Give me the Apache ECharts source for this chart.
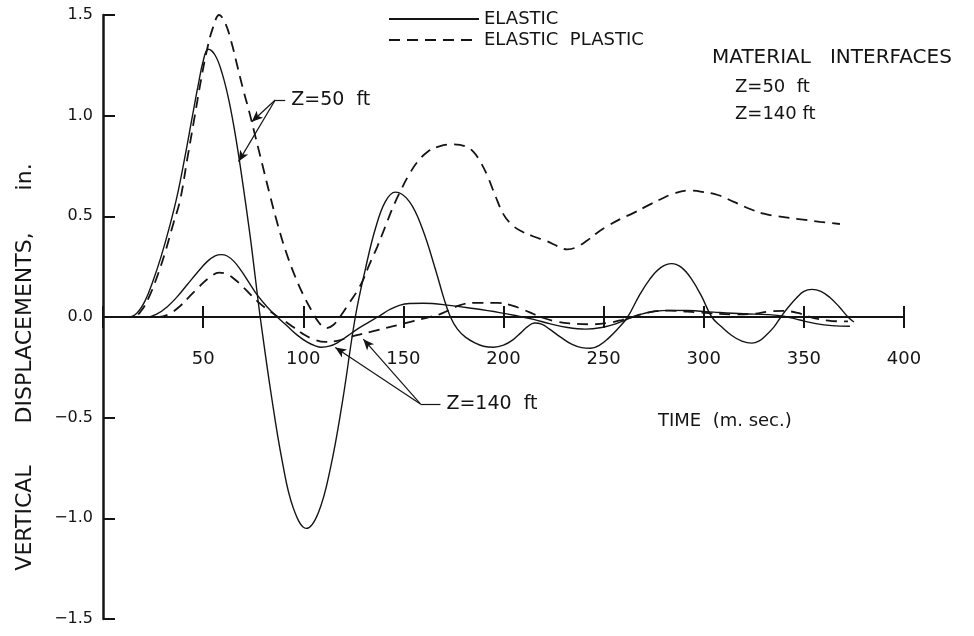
<!DOCTYPE html>
<html><head><meta charset="utf-8">
<script src="https://cdn.jsdelivr.net/npm/echarts@6/dist/echarts.min.js"></script>
<style>html,body{margin:0;padding:0;background:#fff}#c{width:974px;height:636px}</style>
</head><body><div id="c"></div>
<script>
// ---- data (time in ms, vertical displacement in inches) ----
const xTickValues = [0, 50, 100, 150, 200, 250, 300, 350, 400];
const yTickValues = [-1.5, -1.0, -0.5, 0.0, 0.5, 1.0, 1.5];

// Z = 50 ft, elastic (solid)
const z50ElasticT = [0, 13, 17, 21, 25, 29, 33, 37, 41, 44.5, 47.5, 50, 52.5, 56, 59.5, 63, 66.5, 70, 73.5, 76, 78.5, 84, 89.5, 95, 101.5, 107.5, 113.5, 119.5, 126, 131, 136, 141, 146, 153, 159.5, 166.5, 170, 173.5, 177, 181, 186, 190, 195, 200, 204.5, 208.5, 212, 215.5, 219, 223, 228.5, 234, 239, 243.5, 248, 252.5, 257, 262, 267.5, 273, 278.5, 284, 289, 294, 299, 304, 309, 314, 319, 324, 327.5, 331, 335, 338.5, 342.5, 346.5, 350, 354, 358.5, 363, 367.5, 372, 375];
const z50ElasticV = [0, 0, 0.02, 0.08, 0.18, 0.3, 0.44, 0.6, 0.8, 0.99, 1.15, 1.27, 1.33, 1.3, 1.21, 1.07, 0.88, 0.65, 0.4, 0.2, 0, -0.385, -0.716, -0.948, -1.05, -0.973, -0.754, -0.425, 0, 0.237, 0.438, 0.573, 0.62, 0.573, 0.438, 0.22, 0.1, 0, -0.06, -0.1, -0.13, -0.145, -0.15, -0.14, -0.115, -0.08, -0.048, -0.03, -0.035, -0.06, -0.1, -0.135, -0.152, -0.155, -0.14, -0.105, -0.06, 0, 0.101, 0.187, 0.245, 0.265, 0.245, 0.187, 0.101, 0, -0.05, -0.092, -0.12, -0.13, -0.12, -0.092, -0.05, 0, 0.052, 0.097, 0.127, 0.137, 0.127, 0.097, 0.052, 0, -0.025];

// Z = 50 ft, elastic-plastic (dashed)
const z50PlasticT = [0, 15, 19, 23, 27, 31, 35, 38.5, 42, 45.5, 49, 52, 55, 58, 61, 64, 67, 70, 73, 76, 79.5, 83.5, 87.5, 91.5, 96, 100, 104, 108, 111.5, 115, 119, 123, 127, 130, 133, 137, 141, 145, 149, 153, 157, 162, 168, 175, 181, 185, 188.5, 192, 196, 200, 204, 208.5, 215, 221.8, 227, 231.8, 236, 241.8, 247, 252, 258, 265, 272, 278.5, 285, 292, 299, 307, 315, 323.5, 330, 337, 348.5, 358, 368];
const z50PlasticV = [0, 0, 0.03, 0.1, 0.2, 0.32, 0.46, 0.58, 0.78, 0.98, 1.18, 1.33, 1.44, 1.5, 1.46, 1.37, 1.25, 1.13, 1.02, 0.9, 0.76, 0.6, 0.45, 0.32, 0.2, 0.11, 0.035, -0.03, -0.055, -0.04, 0.01, 0.07, 0.13, 0.187, 0.26, 0.35, 0.45, 0.55, 0.635, 0.71, 0.77, 0.82, 0.848, 0.857, 0.848, 0.82, 0.77, 0.7, 0.6, 0.51, 0.46, 0.428, 0.4, 0.376, 0.352, 0.336, 0.345, 0.38, 0.42, 0.452, 0.485, 0.517, 0.553, 0.585, 0.613, 0.628, 0.622, 0.606, 0.572, 0.535, 0.513, 0.5, 0.485, 0.473, 0.462];

// Z = 140 ft, elastic (solid)
const z140ElasticT = [0, 22, 27, 32, 37, 42, 47, 52, 56, 59, 62, 65.5, 69, 73, 77, 82, 87, 92, 97, 102, 106, 109, 113, 117, 122, 127, 132, 138, 143, 148, 153, 160, 173, 185, 198, 207, 215, 223, 232, 241, 249, 256, 262, 268, 275, 283, 292, 305, 320, 332, 340, 348, 356, 364, 373];
const z140ElasticV = [0, 0, 0.015, 0.05, 0.1, 0.16, 0.22, 0.275, 0.303, 0.31, 0.303, 0.275, 0.23, 0.17, 0.11, 0.05, 0.0, -0.045, -0.09, -0.125, -0.143, -0.15, -0.145, -0.128, -0.095, -0.06, -0.03, 0.005, 0.036, 0.058, 0.067, 0.068, 0.058, 0.042, 0.022, 0.005, -0.012, -0.033, -0.052, -0.06, -0.052, -0.034, -0.01, 0.012, 0.027, 0.033, 0.032, 0.024, 0.016, 0.012, 0.004, -0.015, -0.033, -0.043, -0.046];

// Z = 140 ft, elastic-plastic (dashed)
const z140PlasticT = [0, 28, 33, 38, 43, 48, 53, 58, 62, 66, 70, 74, 78, 82, 86, 90, 95, 100, 105, 111, 117, 123, 129, 135, 142, 148, 155, 162, 168, 173, 178, 185, 197, 204, 210, 215, 220, 226, 233, 245, 253, 259, 265, 272, 282, 298, 315, 325, 333, 340, 347, 355, 364, 372];
const z140PlasticV = [0, 0, 0.015, 0.05, 0.1, 0.15, 0.195, 0.22, 0.212, 0.185, 0.148, 0.108, 0.07, 0.038, 0.01, -0.015, -0.05, -0.085, -0.11, -0.124, -0.118, -0.1, -0.085, -0.07, -0.053, -0.038, -0.02, -0.003, 0.013, 0.035, 0.058, 0.07, 0.07, 0.058, 0.036, 0.015, -0.005, -0.022, -0.032, -0.036, -0.028, -0.015, 0.002, 0.022, 0.032, 0.022, 0.013, 0.016, 0.028, 0.03, 0.02, -0.005, -0.02, -0.022];

// annotation anchors (data coordinates)
const z50Label = 'Z=50  ft';
const z140Label = 'Z=140  ft';
const z50ArrowFrom = [86, 1.078];
const z50ArrowTips = [[74.3, 0.97], [67.7, 0.772]];
const z50LeaderEnd = [91, 1.078];
const z140ArrowFrom = [158.5, -0.432];
const z140ArrowTips = [[116, -0.151], [130, -0.11]];
const z140LeaderEnd = [168.5, -0.432];

const FONT = 'DejaVu Sans';
const INK = '#141414';
const CLEAR = 'rgba(0,0,0,0)';

function zip(t, v) { return t.map((x, i) => [x, v[i]]); }

const chart = echarts.init(document.getElementById('c'), null, { renderer: 'canvas' });

function arrowLines(from, tips) {
  return tips.map(tp => [
    { coord: from, symbol: 'none' },
    { coord: tp, symbol: 'arrow', symbolSize: [7, 11] }
  ]);
}
function annotation(from, tips, leaderEnd, text) {
  return {
    silent: true, animation: false, symbol: ['none', 'arrow'],
    lineStyle: { color: INK, width: 1.2, type: 'solid' },
    itemStyle: { color: INK },
    label: { show: false },
    data: arrowLines(from, tips).concat([[
      { coord: from, symbol: 'none' },
      { coord: leaderEnd, symbol: 'none',
        label: { show: true, position: 'end', formatter: text, distance: 6,
                 fontFamily: FONT, fontSize: 19, color: INK } }
    ]])
  };
}

const solidStyle = { color: INK, width: 1.4, type: 'solid' };
const dashStyle = { color: INK, width: 1.8, type: [11, 7] };
const G = { left: 103, right: 70, top: 15 };
const xBase = { type: 'value', min: 0, max: 400, interval: 50, splitLine: { show: false } };

const option = {
  animation: false,
  backgroundColor: '#fff',
  textStyle: { fontFamily: FONT, color: INK },
  grid: [
    { left: G.left, right: G.right, top: G.top, height: 604 },
    { left: G.left, right: G.right, top: G.top, height: 302 },
    { left: G.left, right: G.right, top: G.top, height: 302 }
  ],
  legend: {
    data: ['ELASTIC', 'ELASTIC  PLASTIC'],
    orient: 'vertical',
    left: 388, top: 10,
    itemWidth: 90, itemHeight: 14, itemGap: 3,
    padding: 0,
    selectedMode: false,
    itemStyle: { color: CLEAR, borderColor: CLEAR, borderWidth: 0 },
    textStyle: { fontFamily: FONT, fontSize: 18, color: INK }
  },
  xAxis: [
    Object.assign({}, xBase, { gridIndex: 0, show: false }),
    Object.assign({}, xBase, {
      gridIndex: 1, position: 'bottom',
      axisLine: { show: true, onZero: false, lineStyle: { color: INK, width: 2 } },
      axisTick: { show: true, inside: false, length: 11, lineStyle: { color: INK, width: 2 } },
      axisLabel: {
        show: true, margin: 33, fontFamily: FONT, fontSize: 18, color: INK,
        formatter: v => (v === 0 ? '' : String(v))
      }
    }),
    Object.assign({}, xBase, {
      gridIndex: 2, position: 'bottom',
      axisLine: { show: false, onZero: false },
      axisTick: { show: true, inside: true, length: 11, lineStyle: { color: INK, width: 2 } },
      axisLabel: { show: false }
    })
  ],
  yAxis: [
    {
      gridIndex: 0, type: 'value', min: -1.5, max: 1.5, interval: 0.5,
      axisLine: { show: true, onZero: false, lineStyle: { color: INK, width: 2.5 } },
      axisTick: { show: true, inside: true, length: 12, lineStyle: { color: INK, width: 2 } },
      axisLabel: {
        margin: 10, fontFamily: FONT, fontSize: 16, color: INK,
        formatter: v => (v < 0 ? '\u2212' + Math.abs(v).toFixed(1) : v.toFixed(1))
      },
      splitLine: { show: false }
    },
    { gridIndex: 1, type: 'value', min: -1.5, max: 0, show: false },
    { gridIndex: 2, type: 'value', min: -1.5, max: 0, show: false }
  ],
  series: [
    {
      name: 'ELASTIC', type: 'line', data: zip(z50ElasticT, z50ElasticV),
      showSymbol: false, symbol: 'none', smooth: 0.4,
      lineStyle: solidStyle, itemStyle: { color: CLEAR }, z: 3,
      markLine: annotation(z50ArrowFrom, z50ArrowTips, z50LeaderEnd, z50Label)
    },
    {
      name: 'ELASTIC  PLASTIC', type: 'line', data: zip(z50PlasticT, z50PlasticV),
      showSymbol: false, symbol: 'none', smooth: 0.4,
      lineStyle: dashStyle, itemStyle: { color: CLEAR }, z: 3
    },
    {
      name: 'ELASTIC', type: 'line', data: zip(z140ElasticT, z140ElasticV),
      showSymbol: false, symbol: 'none', smooth: 0.4,
      lineStyle: solidStyle, itemStyle: { color: CLEAR }, z: 3,
      markLine: annotation(z140ArrowFrom, z140ArrowTips, z140LeaderEnd, z140Label)
    },
    {
      name: 'ELASTIC  PLASTIC', type: 'line', data: zip(z140PlasticT, z140PlasticV),
      showSymbol: false, symbol: 'none', smooth: 0.4,
      lineStyle: dashStyle, itemStyle: { color: CLEAR }, z: 3
    }
  ],
  graphic: [
    { type: 'text', left: 712, top: 48, style: { text: 'MATERIAL   INTERFACES', font: '20px "DejaVu Sans"', fill: INK } },
    { type: 'text', left: 735, top: 78, style: { text: 'Z=50  ft', font: '18px "DejaVu Sans"', fill: INK } },
    { type: 'text', left: 735, top: 105, style: { text: 'Z=140 ft', font: '18px "DejaVu Sans"', fill: INK } },
    { type: 'text', left: 658, top: 412, style: { text: 'TIME  (m. sec.)', font: '18px "DejaVu Sans"', fill: INK } },
    { type: 'text', x: 25, y: 367, rotation: Math.PI / 2,
      style: { text: 'VERTICAL      DISPLACEMENTS,      in.', font: '22px "DejaVu Sans"', fill: INK, align: 'center', verticalAlign: 'middle' } }
  ]
};
chart.setOption(option);
</script>
</body></html>
